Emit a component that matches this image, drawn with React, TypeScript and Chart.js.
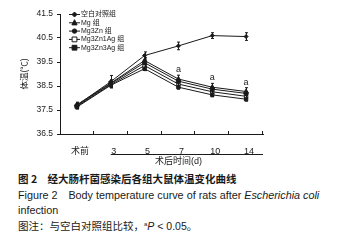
import React, { useEffect, useRef } from "react";
import { Chart, registerables } from "chart.js";

Chart.register(...registerables);

const categories = ["术前", "3", "5", "7", "10", "14"];
const seriesNames = ["空白对照组", "Mg 组", "Mg3Zn 组", "Mg3Zn1Ag 组", "Mg3Zn3Ag 组"];
const controlValues = [37.7, 38.68, 39.77, 40.17, 40.6, 40.56];
const mgValues = [37.72, 38.62, 39.56, 38.79, 38.45, 38.27];
const mg3znValues = [37.68, 38.6, 39.47, 38.7, 38.37, 38.19];
const mg3zn1agValues = [37.65, 38.56, 39.35, 38.58, 38.26, 38.07];
const mg3zn3agValues = [37.62, 38.53, 39.22, 38.45, 38.13, 37.95];
const controlErr = [0.12, 0.26, 0.15, 0.16, 0.12, 0.16];
const mgErr = [0.1, 0.14, 0.12, 0.16, 0.16, 0.16];
const mg3znErr = [0.08, 0.1, 0.08, 0.08, 0.08, 0.08];
const mg3zn1agErr = [0.08, 0.1, 0.08, 0.08, 0.08, 0.08];
const mg3zn3agErr = [0.08, 0.1, 0.08, 0.08, 0.08, 0.08];
const sigIndices = [3, 4, 5];
const yTicks = [36.5, 37.5, 38.5, 39.5, 40.5, 41.5];

const INK = "#1a1a1a";
const SANS = "'Liberation Sans', Arial, 'Noto Sans CJK SC', sans-serif";

type Style = { pointStyle: string; fill: string; radius: number };
const styles: Style[] = [
  { pointStyle: "rectRot", fill: INK, radius: 2 },
  { pointStyle: "triangle", fill: INK, radius: 2.6 },
  { pointStyle: "circle", fill: INK, radius: 2.2 },
  { pointStyle: "rect", fill: "#ffffff", radius: 2.4 },
  { pointStyle: "rect", fill: INK, radius: 2.4 },
];
const allValues = [controlValues, mgValues, mg3znValues, mg3zn1agValues, mg3zn3agValues];
const allErr = [controlErr, mgErr, mg3znErr, mg3zn1agErr, mg3zn3agErr];

function drawMarker(ctx: CanvasRenderingContext2D, s: Style, x: number, y: number) {
  ctx.save();
  ctx.fillStyle = s.fill;
  ctx.strokeStyle = INK;
  ctx.lineWidth = 1;
  const r = s.radius;
  ctx.beginPath();
  if (s.pointStyle === "rect") {
    ctx.rect(x - r, y - r, 2 * r, 2 * r);
  } else if (s.pointStyle === "rectRot") {
    ctx.moveTo(x, y - r - 0.5);
    ctx.lineTo(x + r + 0.5, y);
    ctx.lineTo(x, y + r + 0.5);
    ctx.lineTo(x - r - 0.5, y);
    ctx.closePath();
  } else if (s.pointStyle === "triangle") {
    ctx.moveTo(x, y - r - 0.5);
    ctx.lineTo(x + r, y + r * 0.8);
    ctx.lineTo(x - r, y + r * 0.8);
    ctx.closePath();
  } else {
    ctx.arc(x, y, r, 0, Math.PI * 2);
  }
  ctx.fill();
  ctx.stroke();
  ctx.restore();
}

const decorPlugin = {
  id: "decor",
  afterDatasetsDraw(chart: any) {
    const ctx: CanvasRenderingContext2D = chart.ctx;
    const xs = chart.scales.x;
    const ys = chart.scales.y;
    const area = chart.chartArea;
    ctx.save();
    ctx.strokeStyle = INK;
    ctx.fillStyle = INK;
    ctx.lineWidth = 1;
    // error bars
    allValues.forEach((vals, d) => {
      vals.forEach((v, i) => {
        const e = allErr[d][i];
        const x = Math.round(xs.getPixelForValue(i)) + 0.5;
        const yt = ys.getPixelForValue(v + e);
        const yb = ys.getPixelForValue(v - e);
        ctx.beginPath();
        ctx.moveTo(x, yt);
        ctx.lineTo(x, yb);
        ctx.moveTo(x - 1.5, yt);
        ctx.lineTo(x + 1.5, yt);
        ctx.moveTo(x - 1.5, yb);
        ctx.lineTo(x + 1.5, yb);
        ctx.stroke();
      });
    });
    // significance letters
    ctx.font = `9px ${SANS}`;
    ctx.textAlign = "center";
    ctx.textBaseline = "bottom";
    sigIndices.forEach((i) => {
      const x = xs.getPixelForValue(i);
      const y = ys.getPixelForValue(mgValues[i] + mgErr[i]);
      ctx.fillText("a", x, y - 1);
    });
    // x ticks (inward)
    const n = categories.length;
    const w = (area.right - area.left) / n;
    ctx.beginPath();
    for (let i = 1; i <= n; i++) {
      const x = Math.round(area.left + i * w) - 0.5;
      ctx.moveTo(x, area.bottom);
      ctx.lineTo(x, area.bottom - 3);
    }
    ctx.stroke();
    // underline and axis title
    ctx.beginPath();
    ctx.moveTo(area.left + 1.5 * w, area.bottom + 20.5);
    ctx.lineTo(area.right, area.bottom + 20.5);
    ctx.stroke();
    ctx.font = `9px ${SANS}`;
    ctx.textBaseline = "middle";
    ctx.fillText("术后时间(d)", area.left + 3.5 * w, area.bottom + 28);
    // y title
    ctx.save();
    ctx.translate(25, (area.top + area.bottom) / 2);
    ctx.rotate(-Math.PI / 2);
    ctx.font = `8.5px ${SANS}`;
    ctx.fillText("体温(℃)", 0, 0);
    ctx.restore();
    // legend
    ctx.font = `7px ${SANS}`;
    ctx.textAlign = "left";
    ctx.textBaseline = "middle";
    seriesNames.forEach((name, d) => {
      const y = area.top + 0.5 + d * 8.3;
      ctx.beginPath();
      ctx.moveTo(area.left + 9, y);
      ctx.lineTo(area.left + 20, y);
      ctx.stroke();
      drawMarker(ctx, styles[d], area.left + 14.5, y);
      ctx.fillText(name, area.left + 21, y);
    });
    ctx.restore();
  },
};

export default function App() {
  const ref = useRef<HTMLCanvasElement | null>(null);
  useEffect(() => {
    document.body.style.margin = "0";
    if (!ref.current) return;
    const chart = new Chart(ref.current, {
      type: "line",
      data: {
        labels: categories,
        datasets: allValues.map((vals, d) => ({
          label: seriesNames[d],
          data: vals,
          borderColor: INK,
          borderWidth: 1,
          pointStyle: styles[d].pointStyle as any,
          pointRadius: styles[d].radius,
          pointBackgroundColor: styles[d].fill,
          pointBorderColor: INK,
          pointBorderWidth: 1,
          tension: 0,
          fill: false,
        })),
      },
      options: {
        responsive: false,
        animation: false,
        devicePixelRatio: 1,
        layout: { padding: { top: 14, right: 78, left: 0, bottom: 0 } },
        plugins: { legend: { display: false }, tooltip: { enabled: false } },
        scales: {
          x: {
            type: "category",
            offset: true,
            grid: { display: false, drawOnChartArea: false },
            border: { display: true, color: INK, width: 1 },
            ticks: {
              color: INK,
              font: { family: SANS, size: 9 },
              padding: 4,
              maxRotation: 0,
              autoSkip: false,
              labelOffset: 3,
            },
            afterFit: (s: any) => {
              s.height = 36;
            },
          },
          y: {
            min: 36.5,
            max: 41.5,
            afterBuildTicks: (s: any) => {
              s.ticks = yTicks.map((v) => ({ value: v }));
            },
            grid: { drawOnChartArea: false, drawTicks: true, tickLength: 3, color: INK },
            border: { display: true, color: INK, width: 1 },
            ticks: {
              color: INK,
              font: { family: SANS, size: 8.5 },
              padding: 4,
              callback: (v: any) => Number(v).toFixed(1),
            },
            afterFit: (s: any) => {
              s.width = 60;
            },
          },
        },
      },
      plugins: [decorPlugin],
    });
    return () => chart.destroy();
  }, []);

  const cap: React.CSSProperties = {
    position: "absolute",
    left: 18,
    whiteSpace: "nowrap",
    color: "#1a1a1a",
    lineHeight: "14px",
  };
  return (
    <div style={{ position: "relative", width: 341, height: 240, background: "#fff", overflow: "hidden" }}>
      <canvas ref={ref} width={341} height={170} style={{ position: "absolute", left: 0, top: 0 }} />
      <div style={{ ...cap, top: 172, fontFamily: "'Noto Sans CJK SC', sans-serif", fontWeight: 700, fontSize: 10.5 }}>
        图 2{"\u3000"}经大肠杆菌感染后各组大鼠体温变化曲线
      </div>
      <div style={{ ...cap, top: 188, fontFamily: SANS, fontSize: 10.8 }}>
        Figure 2{"\u2003"}Body temperature curve of rats after <i>Escherichia coli</i>
      </div>
      <div style={{ ...cap, top: 203, fontFamily: SANS, fontSize: 10.8 }}>infection</div>
      <div style={{ ...cap, top: 219, fontFamily: "'Liberation Sans', 'Noto Sans CJK SC', sans-serif", fontSize: 10.5 }}>
        图注：与空白对照组比较，<sup style={{ fontSize: 6, verticalAlign: "top", lineHeight: "10px" }}>a</sup>
        <i>P</i> &lt; 0.05。
      </div>
    </div>
  );
}
